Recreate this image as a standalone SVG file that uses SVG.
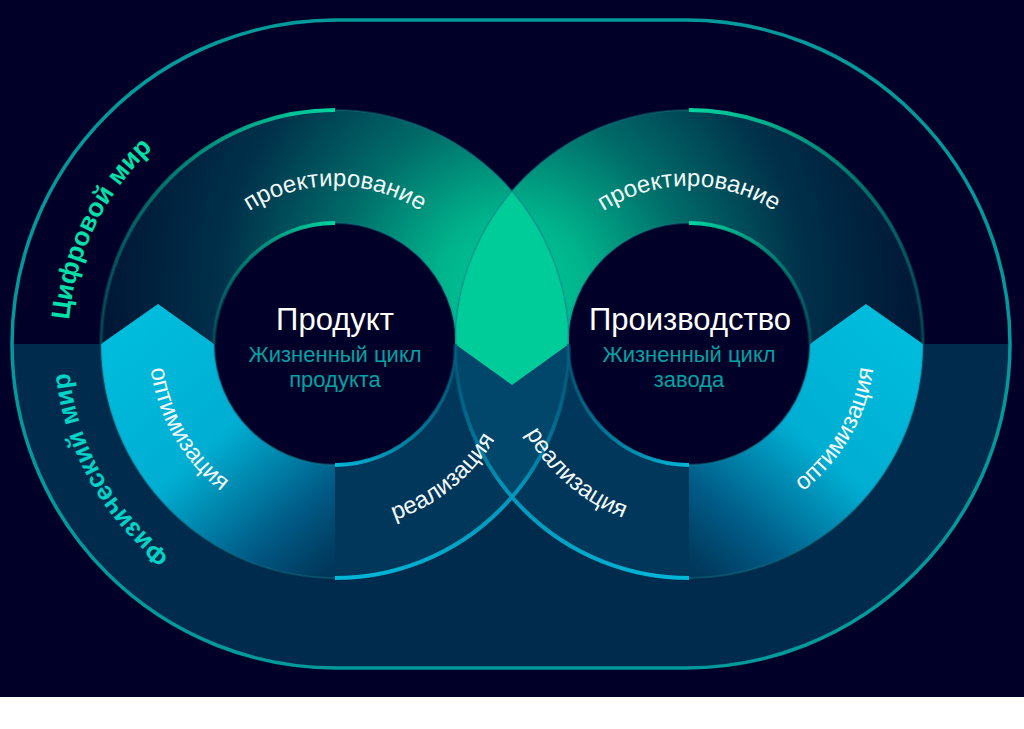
<svg xmlns="http://www.w3.org/2000/svg" width="1024" height="729" viewBox="0 0 1024 729">
<defs>
<style>
.lbl{font-family:"Liberation Sans",Arial,sans-serif;font-size:24px;fill:#f4f8fa}
.title{font-family:"Liberation Sans",Arial,sans-serif;font-size:31px;fill:#ffffff;text-anchor:middle}
.sub{font-family:"Liberation Sans",Arial,sans-serif;font-size:22px;fill:#00a3a3;text-anchor:middle}
.world{font-family:"Liberation Sans",Arial,sans-serif;font-size:26px;font-weight:bold}
.disk{fill:#000028}
.edge{fill:none;stroke-width:4}
.rim{fill:none;stroke:#1a7f8c;stroke-width:2;opacity:0.35}
</style>
<clipPath id="stadClip"><rect x="12" y="20" width="998" height="648" rx="324"/></clipPath>
<clipPath id="lensTop"><polygon points="440,150 590,150 590,344 569,344 512,385 455,344 440,344"/></clipPath>
<radialGradient id="gTop" gradientUnits="userSpaceOnUse" cx="512" cy="290" r="430">
<stop offset="0" stop-color="#00cc99"/>
<stop offset="0.18" stop-color="#00b28b"/>
<stop offset="0.42" stop-color="#006a68"/>
<stop offset="0.68" stop-color="#00304a"/>
<stop offset="1" stop-color="#001232"/>
</radialGradient>
<linearGradient id="gCyanL" gradientUnits="userSpaceOnUse" x1="130" y1="330" x2="335" y2="565">
<stop offset="0" stop-color="#00bcdc"/>
<stop offset="0.45" stop-color="#00aed2"/>
<stop offset="0.8" stop-color="#005a85"/>
<stop offset="1" stop-color="#00375a"/>
</linearGradient>
<linearGradient id="gCyanR" gradientUnits="userSpaceOnUse" x1="894" y1="330" x2="689" y2="565">
<stop offset="0" stop-color="#00bcdc"/>
<stop offset="0.45" stop-color="#00aed2"/>
<stop offset="0.8" stop-color="#005a85"/>
<stop offset="1" stop-color="#00375a"/>
</linearGradient>
<linearGradient id="gLTo" gradientUnits="userSpaceOnUse" x1="101" y1="344" x2="335" y2="110">
<stop offset="0" stop-color="#006a66" stop-opacity="0.3"/>
<stop offset="1" stop-color="#00d4a0"/>
</linearGradient>
<linearGradient id="gLTi" gradientUnits="userSpaceOnUse" x1="214" y1="344" x2="335" y2="223">
<stop offset="0" stop-color="#006a66" stop-opacity="0.3"/>
<stop offset="1" stop-color="#00d4a0"/>
</linearGradient>
<linearGradient id="gRTo" gradientUnits="userSpaceOnUse" x1="689" y1="110" x2="923" y2="344">
<stop offset="0" stop-color="#00d4a0"/>
<stop offset="1" stop-color="#006a66" stop-opacity="0.3"/>
</linearGradient>
<linearGradient id="gRTi" gradientUnits="userSpaceOnUse" x1="689" y1="223" x2="810" y2="344">
<stop offset="0" stop-color="#00d4a0"/>
<stop offset="1" stop-color="#006a66" stop-opacity="0.3"/>
</linearGradient>
<linearGradient id="gLBo" gradientUnits="userSpaceOnUse" x1="335" y1="578" x2="569" y2="344">
<stop offset="0" stop-color="#00b8d9"/>
<stop offset="0.6" stop-color="#0094b8"/>
<stop offset="1" stop-color="#005a7c" stop-opacity="0.4"/>
</linearGradient>
<linearGradient id="gLBi" gradientUnits="userSpaceOnUse" x1="335" y1="465" x2="456" y2="344">
<stop offset="0" stop-color="#00b8d9"/>
<stop offset="1" stop-color="#00607f" stop-opacity="0.3"/>
</linearGradient>
<linearGradient id="gRBo" gradientUnits="userSpaceOnUse" x1="689" y1="578" x2="455" y2="344">
<stop offset="0" stop-color="#00b8d9"/>
<stop offset="0.6" stop-color="#0094b8"/>
<stop offset="1" stop-color="#005a7c" stop-opacity="0.4"/>
</linearGradient>
<linearGradient id="gRBi" gradientUnits="userSpaceOnUse" x1="689" y1="465" x2="568" y2="344">
<stop offset="0" stop-color="#00b8d9"/>
<stop offset="1" stop-color="#00607f" stop-opacity="0.3"/>
</linearGradient>
<path id="pLTop" d="M186.5,290 A158,158 0 0 1 483.5,290"/>
<path id="pLOpt" d="M182.6,237.3 A186,186 0 0 0 351.2,529.3"/>
<path id="pLReal" d="M253.5,511.2 A186,186 0 0 0 515.5,299"/>
<path id="pRTop" d="M540.5,290 A158,158 0 0 1 837.5,290"/>
<path id="pROpt" d="M672.8,529.3 A186,186 0 0 0 841.4,237.3"/>
<path id="pRReal" d="M510.2,292.7 A186,186 0 0 0 764.6,513.9"/>
<path id="pDigital" d="M103.9,478 A268,268 0 0 1 298.7,78.6"/>
<path id="pPhysical" d="M312.6,611 A268,268 0 0 1 97.2,222.3"/>
</defs>

<g id="background">
<rect x="0" y="0" width="1024" height="697" fill="#000028"/>
<rect x="0" y="697" width="1024" height="32" fill="#ffffff"/>
<rect x="0" y="344" width="1024" height="330" fill="#002b4d" clip-path="url(#stadClip)"/>
<rect x="12" y="20" width="998" height="648" rx="324" fill="none" stroke="#009a9b" stroke-width="3.5"/>
</g>

<g id="ring-product">
<path d="M101,344 A234,234 0 0 1 569,344 L456,344 A121,121 0 0 0 214,344 Z" fill="url(#gTop)"/>
<path d="M101,344 A234,234 0 0 0 569,344 L456,344 A121,121 0 0 1 214,344 Z" fill="#00375a"/>
<path d="M101,344 L158,304 L214,344 A121,121 0 0 0 335,465 L335,578 A234,234 0 0 1 101,344 Z" fill="url(#gCyanL)"/>
</g>

<g id="ring-production">
<path d="M455,344 A234,234 0 0 1 923,344 L810,344 A121,121 0 0 0 568,344 Z" fill="url(#gTop)"/>
<path d="M455,344 A234,234 0 0 0 923,344 L810,344 A121,121 0 0 1 568,344 Z" fill="#00375a"/>
<path d="M923,344 L866,304 L810,344 A121,121 0 0 1 689,465 L689,578 A234,234 0 0 0 923,344 Z" fill="url(#gCyanR)"/>
</g>

<g id="overlap">
<path d="M512,191 A234,234 0 0 1 512,497 A234,234 0 0 1 512,191 Z" fill="#00476b"/>
<path d="M512,191 A234,234 0 0 1 512,497 A234,234 0 0 1 512,191 Z" fill="#00cc99" clip-path="url(#lensTop)"/>
</g>

<g id="connectors">
<circle cx="335" cy="344" r="234" class="rim"/>
<circle cx="689" cy="344" r="234" class="rim"/>
<circle class="disk" cx="335" cy="344" r="120"/>
<circle class="disk" cx="689" cy="344" r="120"/>
<circle cx="335" cy="344" r="121" class="rim"/>
<circle cx="689" cy="344" r="121" class="rim"/>
<path class="edge" d="M101,344 A234,234 0 0 1 335,110" stroke="url(#gLTo)"/>
<path class="edge" d="M214,344 A121,121 0 0 1 335,223" stroke="url(#gLTi)"/>
<path class="edge" d="M689,110 A234,234 0 0 1 923,344" stroke="url(#gRTo)"/>
<path class="edge" d="M689,223 A121,121 0 0 1 810,344" stroke="url(#gRTi)"/>
<path class="edge" d="M335,578 A234,234 0 0 0 569,344" stroke="url(#gLBo)"/>
<path class="edge" d="M335,465 A121,121 0 0 0 456,344" stroke="url(#gLBi)"/>
<path class="edge" d="M689,578 A234,234 0 0 1 455,344" stroke="url(#gRBo)"/>
<path class="edge" d="M689,465 A121,121 0 0 1 568,344" stroke="url(#gRBi)"/>
</g>

<g id="label-digital">
<text class="world" fill="#00e0a8"><textPath href="#pDigital" startOffset="50%" text-anchor="middle">Цифровой мир</textPath></text>
</g>
<g id="label-physical">
<text class="world" fill="#00d2c6"><textPath href="#pPhysical" startOffset="50%" text-anchor="middle">Физический мир</textPath></text>
</g>

<g id="node-product">
<text class="lbl"><textPath href="#pLTop" startOffset="50%" text-anchor="middle">проектирование</textPath></text>
<text class="lbl"><textPath href="#pLOpt" startOffset="50%" text-anchor="middle">оптимизация</textPath></text>
<text class="lbl"><textPath href="#pLReal" startOffset="50%" text-anchor="middle">реализация</textPath></text>
<text class="title" x="335" y="330">Продукт</text>
<text class="sub" x="335" y="362">Жизненный цикл</text>
<text class="sub" x="335" y="387">продукта</text>
</g>

<g id="node-production">
<text class="lbl"><textPath href="#pRTop" startOffset="50%" text-anchor="middle">проектирование</textPath></text>
<text class="lbl"><textPath href="#pROpt" startOffset="50%" text-anchor="middle">оптимизация</textPath></text>
<text class="lbl"><textPath href="#pRReal" startOffset="50%" text-anchor="middle">реализация</textPath></text>
<text class="title" x="690" y="330">Производство</text>
<text class="sub" x="689" y="362">Жизненный цикл</text>
<text class="sub" x="689" y="387">завода</text>
</g>
</svg>
